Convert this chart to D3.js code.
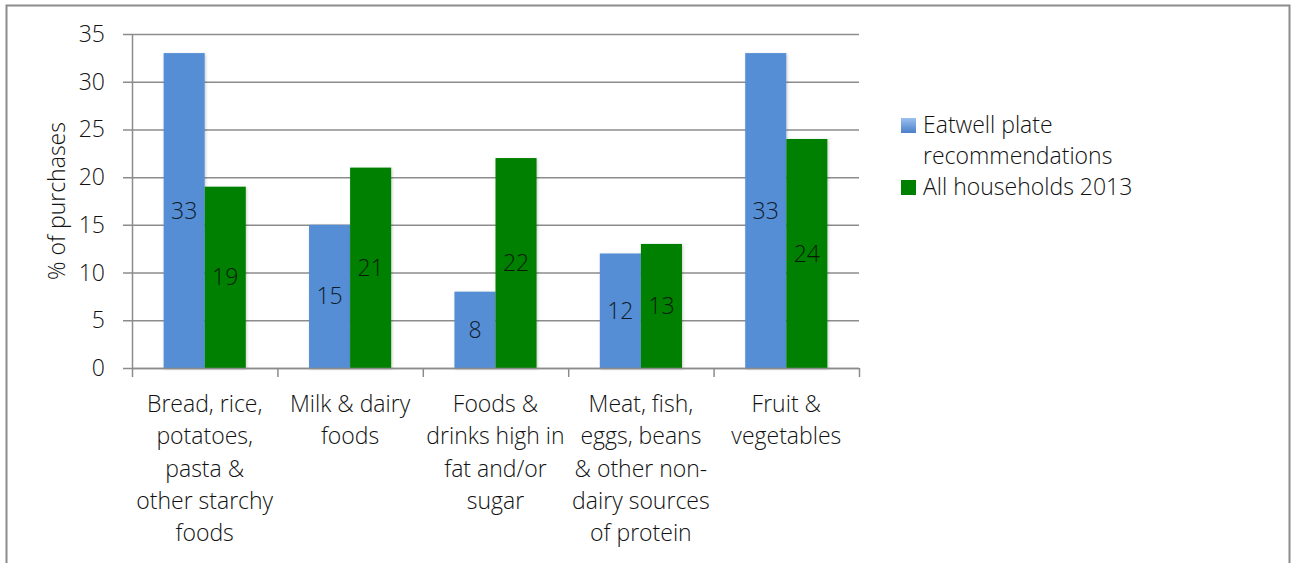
<!DOCTYPE html>
<html>
<head>
<meta charset="utf-8">
<script src="https://cdn.jsdelivr.net/npm/d3@7"></script>
<style>
  body { margin: 0; background: #fff; }
  svg { font-family: "Open Sans", Lato, sans-serif; font-weight: 300; }
</style>
</head>
<body>
<svg id="chart"></svg>
<script>
// Chart data
const categories = [
  ["Bread, rice,", "potatoes,", "pasta &", "other starchy", "foods"],
  ["Milk & dairy", "foods"],
  ["Foods &", "drinks high in", "fat and/or", "sugar"],
  ["Meat, fish,", "eggs, beans", "& other non-", "dairy sources", "of protein"],
  ["Fruit &", "vegetables"]
];
const seriesNames = ["Eatwell plate recommendations", "All households 2013"];
const eatwell = [33, 15, 8, 12, 33];
const households2013 = [19, 21, 22, 13, 24];
const yTicks = [0, 5, 10, 15, 20, 25, 30, 35];

const colors = ["#558ed5", "#008000"];
const width = 1295, height = 563;
const fontSize = 23;
const textColor = "#111";

const svg = d3.select("#chart")
  .attr("width", width)
  .attr("height", height);

// outer frame (bottom edge is cut off)
svg.append("path")
  .attr("d", `M6.5,${height} V5.5 H1289.5 V${height}`)
  .attr("fill", "none")
  .attr("stroke", "#8c8c8c")
  .attr("stroke-width", 2);

const plotLeft = 132, plotRight = 859, plotTop = 34, plotBottom = 368;

const x = d3.scaleBand()
  .domain(d3.range(categories.length))
  .range([plotLeft, plotRight])
  .paddingInner(0.435)
  .paddingOuter(0.2175);

const x1 = d3.scaleBand()
  .domain([0, 1])
  .range([0, x.bandwidth()]);

const y = d3.scaleLinear()
  .domain([0, 35])
  .range([plotBottom, plotTop]);

// gridlines
svg.append("g")
  .selectAll("line")
  .data(yTicks)
  .join("line")
  .attr("x1", plotLeft - 9)
  .attr("x2", plotRight)
  .attr("y1", d => y(d) + 0.5)
  .attr("y2", d => y(d) + 0.5)
  .attr("stroke", "#8c8c8c")
  .attr("stroke-width", 1.5);

// y axis line
svg.append("line")
  .attr("x1", plotLeft + 0.5).attr("x2", plotLeft + 0.5)
  .attr("y1", plotTop).attr("y2", plotBottom)
  .attr("stroke", "#8c8c8c")
  .attr("stroke-width", 1.5);

// y tick labels
svg.append("g")
  .selectAll("text")
  .data(yTicks)
  .join("text")
  .attr("x", plotLeft - 27)
  .attr("y", d => y(d))
  .attr("dy", "0.35em")
  .attr("text-anchor", "end")
  .attr("font-size", fontSize)
  .attr("fill", textColor)
  .text(d => d);

// x ticks at category boundaries
const step = (plotRight - plotLeft) / categories.length;
svg.append("g")
  .selectAll("line")
  .data(d3.range(categories.length + 1))
  .join("line")
  .attr("x1", i => plotLeft + i * step + 0.5)
  .attr("x2", i => plotLeft + i * step + 0.5)
  .attr("y1", plotBottom)
  .attr("y2", plotBottom + 9)
  .attr("stroke", "#8c8c8c")
  .attr("stroke-width", 1.5);

// bars
const rows = categories.map((c, i) => [eatwell[i], households2013[i]]);

const defs = svg.append("defs");
defs.append("filter").attr("id", "shadow")
  .attr("x", "-20%").attr("width", "140%")
  .append("feDropShadow")
  .attr("dx", 1).attr("dy", 1).attr("stdDeviation", 1.5)
  .attr("flood-color", "#000").attr("flood-opacity", 0.2);

const group = svg.append("g")
  .selectAll("g")
  .data(rows)
  .join("g")
  .attr("transform", (d, i) => `translate(${x(i)},0)`);

group.selectAll("rect")
  .data(d => d)
  .join("rect")
  .attr("x", (d, j) => x1(j))
  .attr("y", d => y(d))
  .attr("width", x1.bandwidth())
  .attr("height", d => y(0) - y(d))
  .attr("fill", (d, j) => colors[j])
  .attr("filter", "url(#shadow)");

// axis line on top of bars
svg.append("line")
  .attr("x1", plotLeft).attr("x2", plotRight)
  .attr("y1", plotBottom + 0.5).attr("y2", plotBottom + 0.5)
  .attr("stroke", "#8c8c8c")
  .attr("stroke-width", 1.5);

// value labels
group.selectAll("text")
  .data(d => d)
  .join("text")
  .attr("x", (d, j) => x1(j) + x1.bandwidth() / 2)
  .attr("y", d => (y(d) + y(0)) / 2)
  .attr("dy", "0.35em")
  .attr("text-anchor", "middle")
  .attr("font-size", fontSize)
  .attr("fill", (d, j) => j === 0 ? "#0f1a2a" : "#061a06")
  .text(d => d);

// category labels
svg.append("g")
  .selectAll("text")
  .data(categories)
  .join("text")
  .attr("x", (d, i) => x(i) + x.bandwidth() / 2)
  .attr("y", 412)
  .attr("text-anchor", "middle")
  .attr("font-size", fontSize)
  .attr("fill", textColor)
  .selectAll("tspan")
  .data(d => d)
  .join("tspan")
  .attr("x", function() { return this.parentNode.getAttribute("x"); })
  .attr("dy", (d, k) => k === 0 ? 0 : 32.3)
  .text(d => d);

// y axis title
svg.append("text")
  .attr("transform", `translate(65,${(plotTop + plotBottom) / 2}) rotate(-90)`)
  .attr("text-anchor", "middle")
  .attr("font-size", fontSize)
  .attr("fill", textColor)
  .text("% of purchases");

// legend
const grad = defs.append("linearGradient")
  .attr("id", "legendBlue")
  .attr("x1", 0).attr("y1", 0).attr("x2", 0).attr("y2", 1);
grad.append("stop").attr("offset", "0%").attr("stop-color", "#9cc0f0");
grad.append("stop").attr("offset", "100%").attr("stop-color", "#4a7fc8");

const legendRows = [
  { lines: ["Eatwell plate", "recommendations"], fill: "url(#legendBlue)", y: 125 },
  { lines: ["All households 2013"], fill: colors[1], y: 187 }
];

const legend = svg.append("g")
  .selectAll("g")
  .data(legendRows)
  .join("g");

legend.append("rect")
  .attr("x", 901)
  .attr("y", d => d.y - 7)
  .attr("width", 15)
  .attr("height", 15)
  .attr("fill", d => d.fill);

legend.append("text")
  .attr("x", 923)
  .attr("y", d => d.y)
  .attr("font-size", fontSize)
  .attr("fill", textColor)
  .selectAll("tspan")
  .data(d => d.lines)
  .join("tspan")
  .attr("x", 923)
  .attr("dy", (d, k) => k === 0 ? "0.35em" : 31)
  .text(d => d);
</script>
</body>
</html>
